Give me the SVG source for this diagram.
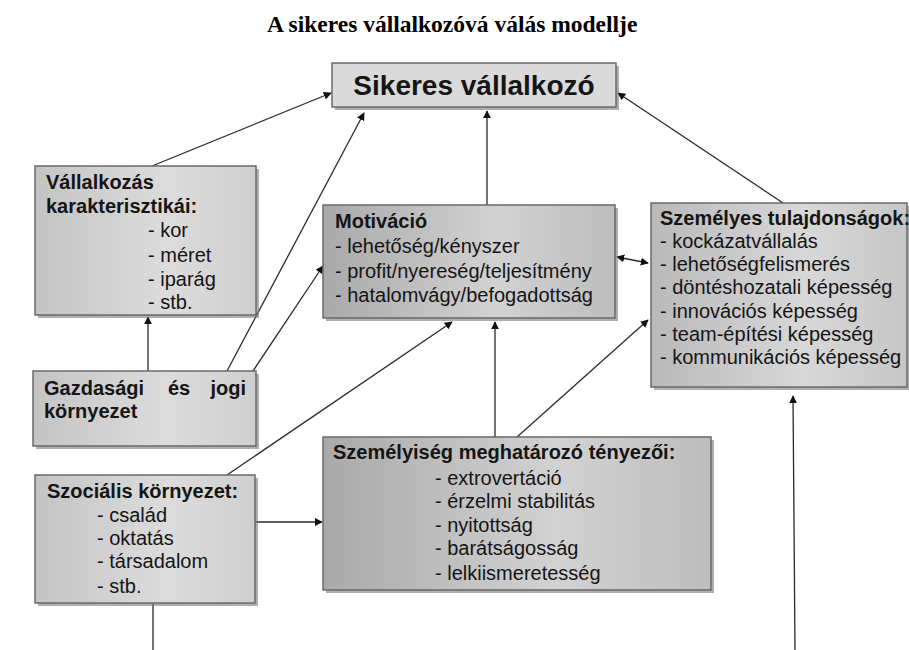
<svg xmlns="http://www.w3.org/2000/svg" width="909" height="650" viewBox="0 0 909 650">
<defs>
<linearGradient id="g1" x1="0" y1="0" x2="1" y2="0"><stop offset="0" stop-color="#c4c4c4"/><stop offset="0.6" stop-color="#dcdcdc"/><stop offset="1" stop-color="#cfcfcf"/></linearGradient>
<linearGradient id="g2" x1="0" y1="0" x2="1" y2="0"><stop offset="0" stop-color="#a9a9a9"/><stop offset="0.6" stop-color="#d2d2d2"/><stop offset="1" stop-color="#bdbdbd"/></linearGradient>
<linearGradient id="g3" x1="0" y1="0" x2="1" y2="0"><stop offset="0" stop-color="#b9b9b9"/><stop offset="0.6" stop-color="#d8d8d8"/><stop offset="1" stop-color="#c6c6c6"/></linearGradient>
<marker id="ah" viewBox="0 0 10 10" refX="9" refY="5" markerWidth="8" markerHeight="8" markerUnits="userSpaceOnUse" orient="auto-start-reverse"><path d="M0,0 L10,5 L0,10 z" fill="#111"/></marker>
</defs>
<style>
.box{stroke:#6a6a6a;stroke-width:1.5}
.sh{fill:#7a7a7a;opacity:0.6}
.t{font-family:"Liberation Sans",Arial,sans-serif;font-size:20px;fill:#151515}
.b{font-weight:bold}
.big{font-size:28px}
.c{stroke:#2a2a2a;stroke-width:1.3;fill:none}
.a{marker-end:url(#ah)}
</style>
<rect width="909" height="650" fill="#fff"/>
<text x="267" y="32" font-family="Liberation Serif,Times New Roman,serif" font-weight="bold" font-size="23.5" fill="#000">A sikeres vállalkozóvá válás modellje</text>

<g id="connectors">
<line class="c a" x1="152" y1="166" x2="331" y2="93"/>
<line class="c a" x1="227" y1="371" x2="364" y2="113"/>
<line class="c a" x1="253" y1="371" x2="323" y2="266"/>
<line class="c a" x1="148" y1="371" x2="148" y2="317"/>
<line class="c a" x1="487" y1="205" x2="487" y2="111"/>
<line class="c a" x1="783" y1="203" x2="618" y2="93"/>
<line class="c a" x1="617" y1="257" x2="648" y2="263" style="marker-start:url(#ah)"/>
<line class="c a" x1="227" y1="475" x2="452" y2="322"/>
<line class="c a" x1="495" y1="437" x2="495" y2="322"/>
<line class="c a" x1="517" y1="437" x2="648" y2="320"/>
<line class="c a" x1="255" y1="522" x2="322" y2="522"/>
<line class="c" x1="153" y1="604" x2="153" y2="650"/>
<line class="c a" x1="795" y1="650" x2="793" y2="396"/>
</g>

<g id="sikeres">
<rect class="sh" x="335" y="66" width="284" height="44"/>
<rect class="box" x="332" y="63" width="284" height="44" fill="#dadada"/>
<text class="t b big" x="474" y="95" text-anchor="middle">Sikeres vállalkozó</text>
</g>

<g id="vallalkozas">
<rect class="sh" x="38" y="169" width="221" height="149"/>
<rect class="box" x="35" y="166" width="221" height="149" fill="url(#g1)"/>
<text class="t b" x="46" y="189">Vállalkozás</text>
<text class="t b" x="46" y="213">karakterisztikái:</text>
<text class="t" x="148" y="237">- kor</text>
<text class="t" x="148" y="262">- méret</text>
<text class="t" x="148" y="286">- iparág</text>
<text class="t" x="148" y="309">- stb.</text>
</g>

<g id="motivacio">
<rect class="sh" x="326" y="208" width="292" height="113"/>
<rect class="box" x="323" y="205" width="292" height="113" fill="url(#g2)"/>
<text class="t b" x="335" y="228">Motiváció</text>
<text class="t" x="335" y="253">- lehetőség/kényszer</text>
<text class="t" x="335" y="278">- profit/nyereség/teljesítmény</text>
<text class="t" x="335" y="302">- hatalomvágy/befogadottság</text>
</g>

<g id="szemelyes">
<rect class="sh" x="654" y="206" width="256" height="184"/>
<rect class="box" x="651" y="203" width="256" height="184" fill="url(#g3)"/>
<text class="t b" x="660" y="225">Személyes tulajdonságok:</text>
<text class="t" x="660" y="248">- kockázatvállalás</text>
<text class="t" x="660" y="271">- lehetőségfelismerés</text>
<text class="t" x="660" y="294">- döntéshozatali képesség</text>
<text class="t" x="660" y="318">- innovációs képesség</text>
<text class="t" x="660" y="341">- team-építési képesség</text>
<text class="t" x="660" y="364">- kommunikációs képesség</text>
</g>

<g id="gazdasagi">
<rect class="sh" x="36" y="374" width="223" height="75"/>
<rect class="box" x="33" y="371" width="223" height="75" fill="url(#g1)"/>
<text class="t b" x="44" y="395">Gazdasági</text>
<text class="t b" x="168" y="395">és</text>
<text class="t b" x="246" y="395" text-anchor="end">jogi</text>
<text class="t b" x="44" y="418">környezet</text>
</g>

<g id="szocialis">
<rect class="sh" x="38" y="478" width="220" height="128"/>
<rect class="box" x="35" y="475" width="220" height="128" fill="url(#g1)"/>
<text class="t b" x="47" y="498">Szociális környezet:</text>
<text class="t" x="97" y="522">- család</text>
<text class="t" x="97" y="545">- oktatás</text>
<text class="t" x="97" y="568">- társadalom</text>
<text class="t" x="97" y="593">- stb.</text>
</g>

<g id="szemelyiseg">
<rect class="sh" x="326" y="440" width="388" height="153"/>
<rect class="box" x="323" y="437" width="388" height="153" fill="url(#g2)"/>
<text class="t b" x="333" y="459">Személyiség meghatározó tényezői:</text>
<text class="t" x="435" y="485">- extrovertáció</text>
<text class="t" x="435" y="508">- érzelmi stabilitás</text>
<text class="t" x="435" y="532">- nyitottság</text>
<text class="t" x="435" y="555">- barátságosság</text>
<text class="t" x="435" y="580">- lelkiismeretesség</text>
</g>
</svg>
